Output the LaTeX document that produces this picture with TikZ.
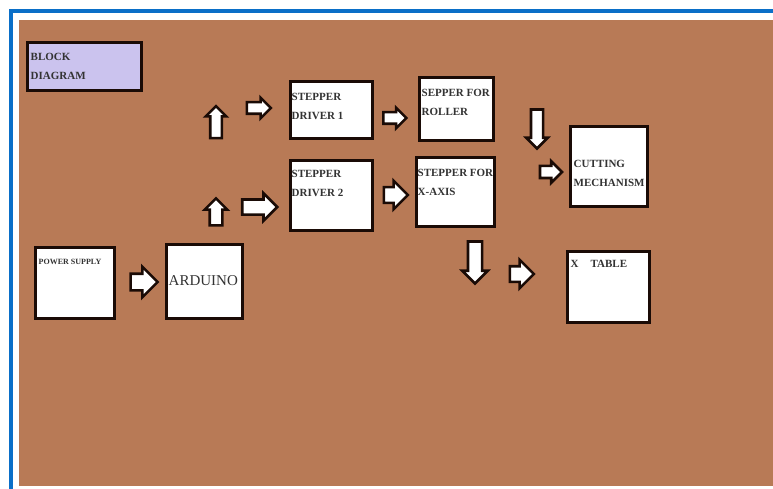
\documentclass[tikz,border=0pt]{standalone}
\usepackage{fontspec}
\setmainfont{Liberation Serif}
\usetikzlibrary{shapes.arrows}

\definecolor{clay}{HTML}{B87A56}
\definecolor{framebl}{HTML}{0A6FC8}
\definecolor{lavend}{HTML}{CBC3EE}
\definecolor{inkgray}{HTML}{333333}
\definecolor{edgeink}{HTML}{1A0B06}

\tikzset{
  blk/.style={draw=edgeink, line width=3pt, fill=white, inner sep=0pt},
  txt/.style={anchor=north west, align=left, inner sep=0pt, text=inkgray,
    font=\fontsize{11}{18.5}\selectfont\bfseries},
  blkarrow/.style 2 args={single arrow, draw=edgeink, line width=2.6pt, fill=white,
    inner xsep=0pt, inner ysep=#2/4, single arrow head extend=#2/4,
    minimum height=#1, minimum width=#2},
}

\begin{document}
\begin{tikzpicture}[x=1pt,y=-1pt]

\useasboundingbox (0,0) rectangle (773,489);

% Draw page, frame lines and the brown sheet
\fill[white] (0,0) rectangle (773,489);
\fill[clay] (19,20) rectangle (773,486);
\draw[framebl, line width=4pt] (10.5,489) -- (10.5,11.5) -- (773,11.5);

% Title box
\node[blk, fill=lavend, minimum width=114, minimum height=48] (title) at (84,67) {};
\node[txt] (titlet) at ([shift={(5,12)}]title.north west) {BLOCK\\DIAGRAM};

% Blocks
\node[blk, minimum width=79, minimum height=71] (ps) at (74.5,282.5) {};
\node[blk, minimum width=76, minimum height=74] (ard) at (204,281) {};
\node[blk, minimum width=82, minimum height=57] (drv1) at (331,110.5) {};
\node[blk, minimum width=82, minimum height=69] (drv2) at (331,195.5) {};
\node[blk, minimum width=74, minimum height=63] (roll) at (456,109.5) {};
\node[blk, minimum width=78, minimum height=68] (xax) at (455,192) {};
\node[blk, minimum width=77, minimum height=79] (cut) at (608.5,166.5) {};
\node[blk, minimum width=82, minimum height=71] (xtab) at (608,286.5) {};

% Block texts
\node[txt, font=\fontsize{8}{9}\selectfont\bfseries] (pst) at ([shift={(5,14)}]ps.north west) {POWER SUPPLY};
\node[txt, anchor=west, font=\fontsize{15}{18}\selectfont] (ardt) at ([shift={(4,0)}]ard.west) {ARDUINO};
\node[txt] (drv1t) at ([shift={(3,13)}]drv1.north west) {STEPPER\\DRIVER 1};
\node[txt] (drv2t) at ([shift={(3,11)}]drv2.north west) {STEPPER\\DRIVER 2};
\node[txt] (rollt) at ([shift={(4,13)}]roll.north west) {SEPPER FOR\\ROLLER};
\node[txt] (xaxt) at ([shift={(3,13)}]xax.north west) {STEPPER FOR\\X-AXIS};
\node[txt, anchor=west] (cutt) at ([shift={(5,7)}]cut.west) {CUTTING\\MECHANISM};
\node[txt] (xtabt) at ([shift={(5,11)}]xtab.north west) {X\hspace{12pt}TABLE};

% Block arrows
\node[blkarrow={27}{28}] (a1) at (140,282) {};
\node[blkarrow={32}{18}, rotate=90] (a2) at (216,125) {};
\node[blkarrow={24}{18}] (a3) at (256,108) {};
\node[blkarrow={27}{20}, rotate=90] (a4) at (216,215) {};
\node[blkarrow={35}{25}] (a5) at (256,207) {};
\node[blkarrow={23}{18}] (a6) at (392,118) {};
\node[blkarrow={24}{26}] (a7) at (392,195) {};
\node[blkarrow={39}{19}, rotate=-90] (a8) at (537,126) {};
\node[blkarrow={22}{19}] (a9) at (548,172) {};
\node[blkarrow={42}{23}, rotate=-90] (a10) at (475,259) {};
\node[blkarrow={24}{26}] (a11) at (518,274) {};

\end{tikzpicture}
\end{document}
